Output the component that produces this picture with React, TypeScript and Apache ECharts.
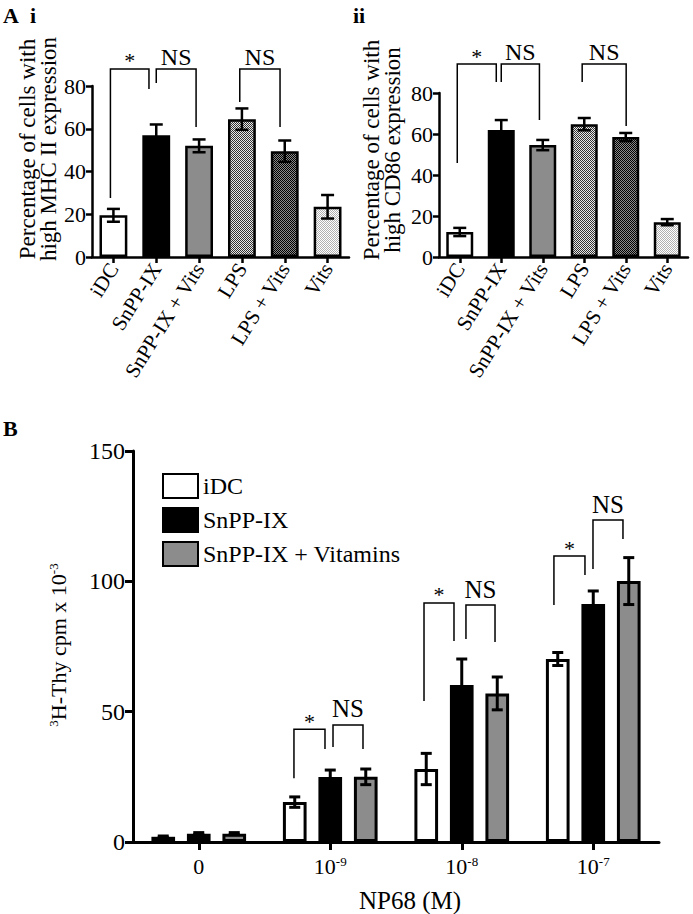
import React, { useEffect, useRef } from "react";
import * as echarts from "echarts";

// ---------- Panel A data ----------
const treatmentsA = ["iDC", "SnPP-IX", "SnPP-IX + Vits", "LPS", "LPS + Vits", "Vits"];
const mhcMeans = [19.5, 57, 52, 64.5, 49.5, 23.5];
const mhcSem = [3, 5, 3, 5, 5, 5.5];
const cd86Means = [12.2, 62, 54.6, 64.8, 58.5, 17];
const cd86Sem = [2, 4.8, 2.5, 3, 2, 1.5];
const yMaxA = 80;
const yStepA = 20;

// ---------- Panel B data ----------
const doseBases = ["0", "10", "10", "10"];
const doseExponents = ["", "-9", "-8", "-7"];
const seriesNamesB = ["iDC", "SnPP-IX", "SnPP-IX + Vitamins"];
const iDCMeans = [2, 15.3, 28, 70.2];
const iDCSem = [0.3, 2, 6, 2.5];
const snppMeans = [3.2, 24.9, 60.2, 91.3];
const snppSem = [0.4, 2.7, 10, 5];
const snppVitMeans = [3.2, 25, 57, 100.1];
const snppVitSem = [0.4, 3, 6.3, 9];
const yMaxB = 150;
const yStepB = 50;

// ---------- significance brackets (category units / data units) ----------
const bracketsMhc = [
  { from: -0.07, to: 0.83, top: 88, leftEnd: 27.6, rightEnd: 78.6, label: "*" },
  { from: 1.0, to: 1.93, top: 88, leftEnd: 81.4, rightEnd: 60.8, label: "NS" },
  { from: 2.95, to: 3.89, top: 88, leftEnd: 72.5, rightEnd: 60.8, label: "NS" },
];
const bracketsCd86 = [
  { from: -0.06, to: 0.88, top: 94.1, leftEnd: 45.9, rightEnd: 85.4, label: "*" },
  { from: 1.0, to: 1.92, top: 94.1, leftEnd: 85.4, rightEnd: 66.8, label: "NS" },
  { from: 2.95, to: 4.01, top: 94.1, leftEnd: 85.4, rightEnd: 63.9, label: "NS" },
];
const bracketsB = [
  { from: 0.724, to: 0.96, top: 43.3, leftEnd: 24.5, rightEnd: 35.7, label: "*" },
  { from: 1.021, to: 1.249, top: 44.9, leftEnd: 36.4, rightEnd: 35.7, label: "NS" },
  { from: 1.713, to: 1.941, top: 91.7, leftEnd: 54.1, rightEnd: 77.1, label: "*" },
  { from: 2.032, to: 2.253, top: 90.9, leftEnd: 77.9, rightEnd: 76.7, label: "NS" },
  { from: 2.701, to: 2.937, top: 109.7, leftEnd: 90.9, rightEnd: 102.4, label: "*" },
  { from: 2.998, to: 3.226, top: 123.5, leftEnd: 104.7, rightEnd: 116.2, label: "NS" },
];

const FONT = "Liberation Serif";

function checker(on: string, off: string) {
  const c = document.createElement("canvas");
  c.width = 2;
  c.height = 2;
  const g = c.getContext("2d")!;
  g.fillStyle = off;
  g.fillRect(0, 0, 2, 2);
  g.fillStyle = on;
  g.fillRect(0, 0, 1, 1);
  g.fillRect(1, 1, 1, 1);
  return { image: c.toDataURL(), repeat: "repeat" };
}

function errorRender(offsetFrac: number, capW: number, lw: number) {
  return (params: any, api: any) => {
    const cat = api.value(0);
    const mean = api.value(1);
    const err = api.value(2);
    const band = api.size([1, 0])[0];
    const x = api.coord([cat, mean])[0] + offsetFrac * band;
    const yHi = api.coord([cat, mean + err])[1];
    const yLo = api.coord([cat, mean - err])[1];
    const st = { stroke: "#000", lineWidth: lw };
    return {
      type: "group",
      children: [
        { type: "line", shape: { x1: x, y1: yHi, x2: x, y2: yLo }, style: st },
        { type: "line", shape: { x1: x - capW / 2, y1: yHi, x2: x + capW / 2, y2: yHi }, style: st },
        { type: "line", shape: { x1: x - capW / 2, y1: yLo, x2: x + capW / 2, y2: yLo }, style: st },
      ],
    };
  };
}

function bracketRender(list: any[], gapNS: number, gapStar: number, nsSize: number, starSize: number) {
  return (params: any, api: any) => {
    const b = list[params.dataIndex];
    const c0 = api.coord([0, 0]);
    const band = api.size([1, 0])[0];
    const X = (p: number) => c0[0] + p * band;
    const Y = (v: number) => api.coord([0, v])[1];
    const xl = X(b.from);
    const xr = X(b.to);
    const yt = Y(b.top);
    const isStar = b.label === "*";
    return {
      type: "group",
      children: [
        {
          type: "polyline",
          shape: { points: [[xl, Y(b.leftEnd)], [xl, yt], [xr, yt], [xr, Y(b.rightEnd)]] },
          style: { stroke: "#000", fill: null, lineWidth: 1.5 },
        },
        {
          type: "text",
          x: (xl + xr) / 2,
          y: yt - (isStar ? gapStar : gapNS),
          style: {
            text: b.label,
            fill: "#000",
            fontSize: isStar ? starSize : nsSize,
            fontFamily: FONT,
            align: "center",
            verticalAlign: "middle",
          },
        },
      ],
    };
  };
}

function catAxisA(grid: number) {
  return {
    gridIndex: grid,
    type: "category",
    data: treatmentsA,
    axisLine: { show: true, lineStyle: { color: "#000", width: 2.5 } },
    axisTick: { show: true, alignWithLabel: true, length: 6, lineStyle: { color: "#000", width: 2.5 } },
    axisLabel: { rotate: 58, fontSize: 21, color: "#000", fontFamily: FONT, margin: 8, interval: 0 },
  };
}

function valAxisA(grid: number) {
  return {
    gridIndex: grid,
    type: "value",
    min: 0,
    max: yMaxA,
    interval: yStepA,
    splitLine: { show: false },
    axisLine: { show: true, lineStyle: { color: "#000", width: 2.5 } },
    axisTick: { show: true, length: 6, lineStyle: { color: "#000", width: 2.5 } },
    axisLabel: { fontSize: 22, color: "#000", fontFamily: FONT, margin: 6 },
  };
}

export default function App() {
  const ref = useRef<HTMLDivElement>(null);
  useEffect(() => {
    if (!ref.current) return;
    const chart = echarts.init(ref.current, undefined, { renderer: "svg" });

    const fillsA = [
      "#ffffff",
      "#000000",
      "#8c8c8c",
      checker("#333333", "#e8e8e8"),
      checker("#000000", "#8a8a8a"),
      checker("#b0b0b0", "#ffffff"),
    ];
    const fillsB = ["#ffffff", "#000000", "#8c8c8c"];
    const meansB = [iDCMeans, snppMeans, snppVitMeans];
    const semB = [iDCSem, snppSem, snppVitSem];
    const barWidthFracB = 0.18;
    const barGapB = 0.5;

    const barA = (grid: number, name: string, means: number[]) => ({
      type: "bar",
      name,
      xAxisIndex: grid,
      yAxisIndex: grid,
      barWidth: "65%",
      data: means.map((v, i) => ({ value: v, itemStyle: { color: fillsA[i] } })),
      itemStyle: { borderColor: "#000", borderWidth: 2.5 },
      z: 2,
    });
    const errA = (grid: number, name: string, means: number[], sem: number[]) => ({
      type: "custom",
      name,
      xAxisIndex: grid,
      yAxisIndex: grid,
      renderItem: errorRender(0, 13, 2.5),
      data: means.map((v, i) => [i, v, sem[i]]),
      encode: { x: 0, y: 1 },
      z: 5,
    });
    const bracketSeries = (grid: number, name: string, list: any[], gNS: number, gStar: number, nsSize: number) => ({
      type: "custom",
      name,
      xAxisIndex: grid,
      yAxisIndex: grid,
      renderItem: bracketRender(list, gNS, gStar, nsSize, 22),
      data: list.map((b) => [0, b.top]),
      encode: { x: 0, y: 1 },
      clip: false,
      z: 6,
    });

    const seriesB: any[] = [];
    seriesNamesB.forEach((name, k) => {
      seriesB.push({
        type: "bar",
        name,
        xAxisIndex: 2,
        yAxisIndex: 2,
        barWidth: barWidthFracB * 100 + "%",
        barGap: barGapB * 100 + "%",
        data: meansB[k],
        itemStyle: { color: fillsB[k], borderColor: "#000", borderWidth: 3 },
        z: 2,
      });
    });
    seriesNamesB.forEach((name, k) => {
      seriesB.push({
        type: "custom",
        name: "err " + name,
        xAxisIndex: 2,
        yAxisIndex: 2,
        renderItem: errorRender((k - 1) * barWidthFracB * (1 + barGapB), 11, 3),
        data: meansB[k].map((v, i) => [i, v, semB[k][i]]),
        encode: { x: 0, y: 1 },
        z: 5,
      });
    });

    const option: any = {
      animation: false,
      textStyle: { fontFamily: FONT, color: "#000" },
      grid: [
        { left: 92, top: 86, width: 257, height: 171 },
        { left: 439, top: 93, width: 249, height: 164 },
        { left: 133, top: 451, width: 526, height: 391 },
      ],
      legend: {
        data: seriesNamesB,
        orient: "vertical",
        left: 157,
        top: 468,
        itemWidth: 35,
        itemHeight: 24,
        itemGap: 8,
        icon: "rect",
        itemStyle: { borderColor: "#000", borderWidth: 2 },
        textStyle: { fontSize: 24, color: "#000", fontFamily: FONT },
      },
      xAxis: [
        catAxisA(0),
        catAxisA(1),
        {
          gridIndex: 2,
          type: "category",
          data: doseBases.map((b, i) => b + doseExponents[i]),
          axisLine: { show: true, lineStyle: { color: "#000", width: 3 } },
          axisTick: { show: true, alignWithLabel: true, length: 8, lineStyle: { color: "#000", width: 3 } },
          axisLabel: {
            margin: 13,
            interval: 0,
            formatter: (_v: string, i: number) =>
              doseExponents[i] ? `{b|${doseBases[i]}}{s|${doseExponents[i]}}` : `{b|${doseBases[i]}}`,
            rich: {
              b: { fontSize: 22, fontFamily: FONT, color: "#000" },
              s: { fontSize: 13, fontFamily: FONT, color: "#000", verticalAlign: "top" },
            },
          },
        },
      ],
      yAxis: [
        valAxisA(0),
        valAxisA(1),
        {
          gridIndex: 2,
          type: "value",
          min: 0,
          max: yMaxB,
          interval: yStepB,
          splitLine: { show: false },
          axisLine: { show: true, lineStyle: { color: "#000", width: 3 } },
          axisTick: { show: true, length: 8, lineStyle: { color: "#000", width: 3 } },
          axisLabel: { fontSize: 24, color: "#000", fontFamily: FONT, margin: 8 },
        },
      ],
      series: [
        barA(0, "MHC II", mhcMeans),
        errA(0, "err MHC II", mhcMeans, mhcSem),
        bracketSeries(0, "sig MHC II", bracketsMhc, 12, 8, 24),
        barA(1, "CD86", cd86Means),
        errA(1, "err CD86", cd86Means, cd86Sem),
        bracketSeries(1, "sig CD86", bracketsCd86, 12, 8, 24),
        ...seriesB,
        bracketSeries(2, "sig B", bracketsB, 16, 8, 25),
      ],
      graphic: [
        { type: "text", left: 3, top: 4, style: { text: "A", fontSize: 22, fontWeight: "bold", fontFamily: FONT, fill: "#000" } },
        { type: "text", left: 30, top: 4, style: { text: "i", fontSize: 22, fontWeight: "bold", fontFamily: FONT, fill: "#000" } },
        { type: "text", left: 353, top: 4, style: { text: "ii", fontSize: 22, fontWeight: "bold", fontFamily: FONT, fill: "#000" } },
        { type: "text", left: 3, top: 417, style: { text: "B", fontSize: 22, fontWeight: "bold", fontFamily: FONT, fill: "#000" } },
        {
          type: "text",
          x: 38,
          y: 149,
          rotation: Math.PI / 2,
          style: {
            text: "Percentage of cells with\nhigh MHC II expression",
            fontSize: 23,
            lineHeight: 21,
            fontFamily: FONT,
            fill: "#000",
            align: "center",
            verticalAlign: "middle",
          },
        },
        {
          type: "text",
          x: 382,
          y: 150,
          rotation: Math.PI / 2,
          style: {
            text: "Percentage of cells with\nhigh CD86 expression",
            fontSize: 23,
            lineHeight: 21,
            fontFamily: FONT,
            fill: "#000",
            align: "center",
            verticalAlign: "middle",
          },
        },
        {
          type: "text",
          x: 58,
          y: 645,
          rotation: Math.PI / 2,
          style: {
            text: "{s|3}{b|H-Thy cpm x 10}{s|-3}",
            align: "center",
            verticalAlign: "middle",
            rich: {
              b: { fontSize: 22, fontFamily: FONT, fill: "#000" },
              s: { fontSize: 13, fontFamily: FONT, fill: "#000", verticalAlign: "top" },
            },
          },
        },
        {
          type: "text",
          x: 410,
          y: 900,
          style: {
            text: "NP68 (M)",
            fontSize: 25,
            fontFamily: FONT,
            fill: "#000",
            align: "center",
            verticalAlign: "middle",
          },
        },
      ],
    };
    chart.setOption(option);
    return () => chart.dispose();
  }, []);
  return (
    <div
      ref={ref}
      style={{ position: "absolute", left: 0, top: 0, width: 693, height: 914, background: "#fff" }}
    />
  );
}
